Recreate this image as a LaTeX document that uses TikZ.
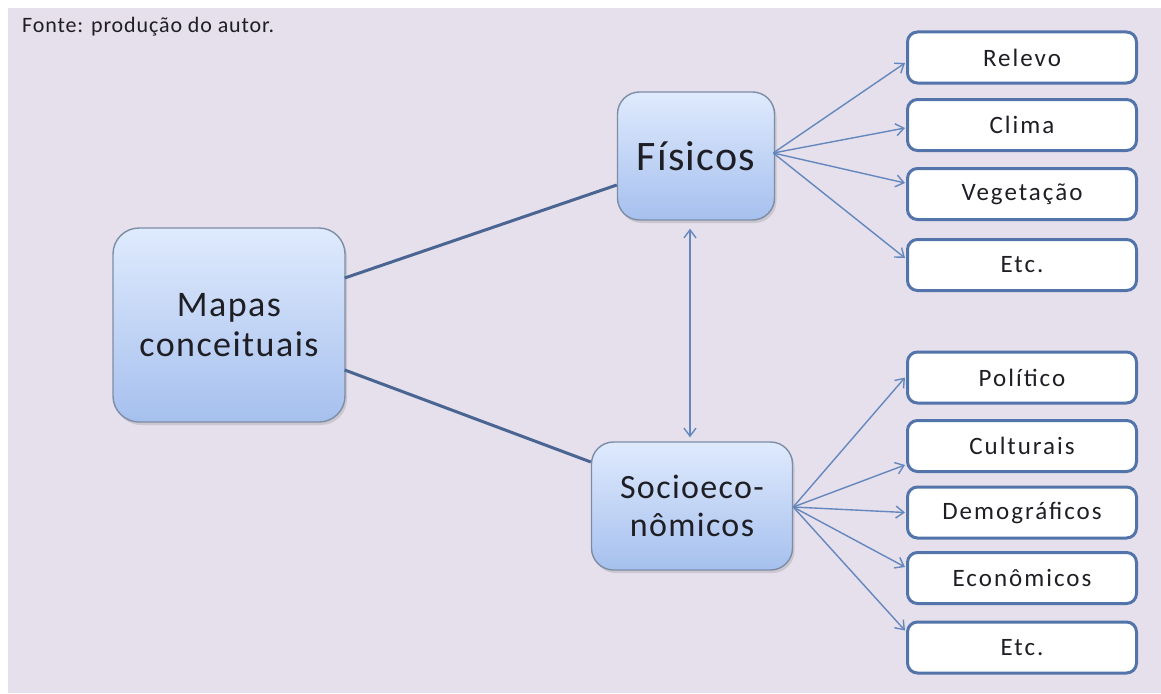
\documentclass[tikz,border=0pt]{standalone}
\usepackage{fontspec}
\setmainfont{Carlito}
\usetikzlibrary{arrows.meta,calc,shadows}
\definecolor{bgc}{HTML}{E5E0EC}
\definecolor{bigtop}{HTML}{DFEAFD}
\definecolor{bigbot}{HTML}{A6C0EE}
\definecolor{bigborder}{HTML}{7E8DA6}
\definecolor{smallborder}{HTML}{5274AA}
\definecolor{thickline}{HTML}{4A6591}
\definecolor{thinline}{HTML}{6488BE}
\definecolor{txt}{HTML}{1E1E24}
\newcommand{\spfont}[2]{\fontsize{#1}{#1}\selectfont\addfontfeatures{LetterSpace=#2}}
\tikzset{
  bigbox/.style={draw=bigborder, line width=1.4pt, rounded corners=22pt,
    top color=bigtop, bottom color=bigbot, align=center, text=txt,
    inner sep=0pt, drop shadow={shadow xshift=2pt, shadow yshift=-3pt, opacity=0.25}},
  smallbox/.style={draw=smallborder, line width=3pt, rounded corners=10pt,
    fill=white, minimum width=229pt, minimum height=51pt, inner sep=0pt,
    text=txt, font=\spfont{25}{8}},
  thick link/.style={draw=thickline, line width=3pt},
  thin arrow/.style={draw=thinline, line width=1.4pt, -{Straight Barb[length=8pt,width=12pt]}},
}
\begin{document}
\begin{tikzpicture}[x=1pt,y=-1pt]
\useasboundingbox (0,0) rectangle (1161,693);
\fill[white] (0,0) rectangle (1161,693);
\fill[bgc] (8,8) rectangle (1161,693);
\node[anchor=base west, text=txt, font=\spfont{22}{4}, inner sep=0pt] (src) at (22,33) {Fonte: produção do autor.};

\node[bigbox, minimum width=232pt, minimum height=194pt, rounded corners=26pt,
  font=\spfont{36}{4}] (mapas) at (229,325) {Mapas\\[4pt]conceituais};
\node[bigbox, minimum width=157pt, minimum height=128pt,
  font=\spfont{42}{3}] (fis) at (696,156) {Físicos};
\node[bigbox, minimum width=201pt, minimum height=128pt,
  font=\spfont{34}{4}] (soc) at (692,506) {Socioeco-\\[4pt]nômicos};

\node[smallbox] (relevo) at (1022,57.5) {Relevo};
\node[smallbox] (clima) at (1022,125) {Clima};
\node[smallbox] (veg) at (1022,194) {Vegetação};
\node[smallbox] (etc1) at (1022,265) {Etc.};
\node[smallbox] (pol) at (1022,377.5) {Político};
\node[smallbox] (cul) at (1022,446) {Culturais};
\node[smallbox] (dem) at (1022,512.5) {Demográficos};
\node[smallbox] (eco) at (1022,578) {Econômicos};
\node[smallbox] (etc2) at (1022,647.5) {Etc.};

\draw[thick link] ($(mapas.east)+(-1,-47)$) -- ($(fis.west)+(0,29)$);
\draw[thick link] ($(mapas.east)+(-1,45)$) -- ($(soc.west)+(0,-44)$);

\draw[thin arrow] ($(fis.east)+(-2,-3)$) -- ($(relevo.west)+(-1,5.5)$);
\draw[thin arrow] ($(fis.east)+(-2,-3)$) -- ($(clima.west)+(-1,3)$);
\draw[thin arrow] ($(fis.east)+(-2,-3)$) -- ($(veg.west)+(-1,-11)$);
\draw[thin arrow] ($(fis.east)+(-2,-3)$) -- ($(etc1.west)+(-1,-7)$);

\draw[thin arrow] ($(soc.east)+(0,1)$) -- ($(pol.west)+(-1,0)$);
\draw[thin arrow] ($(soc.east)+(0,1)$) -- ($(cul.west)+(-1,19)$);
\draw[thin arrow] ($(soc.east)+(0,1)$) -- ($(dem.west)+(-1,0)$);
\draw[thin arrow] ($(soc.east)+(0,1)$) -- ($(eco.west)+(-1,-11)$);
\draw[thin arrow] ($(soc.east)+(0,1)$) -- ($(etc2.west)+(-1,-17)$);

\draw[thin arrow, {Straight Barb[length=8pt,width=12pt]}-{Straight Barb[length=8pt,width=12pt]}]
  ($(fis.south)+(-6,8)$) -- ($(soc.north)+(-2,-4)$);
\end{tikzpicture}
\end{document}
